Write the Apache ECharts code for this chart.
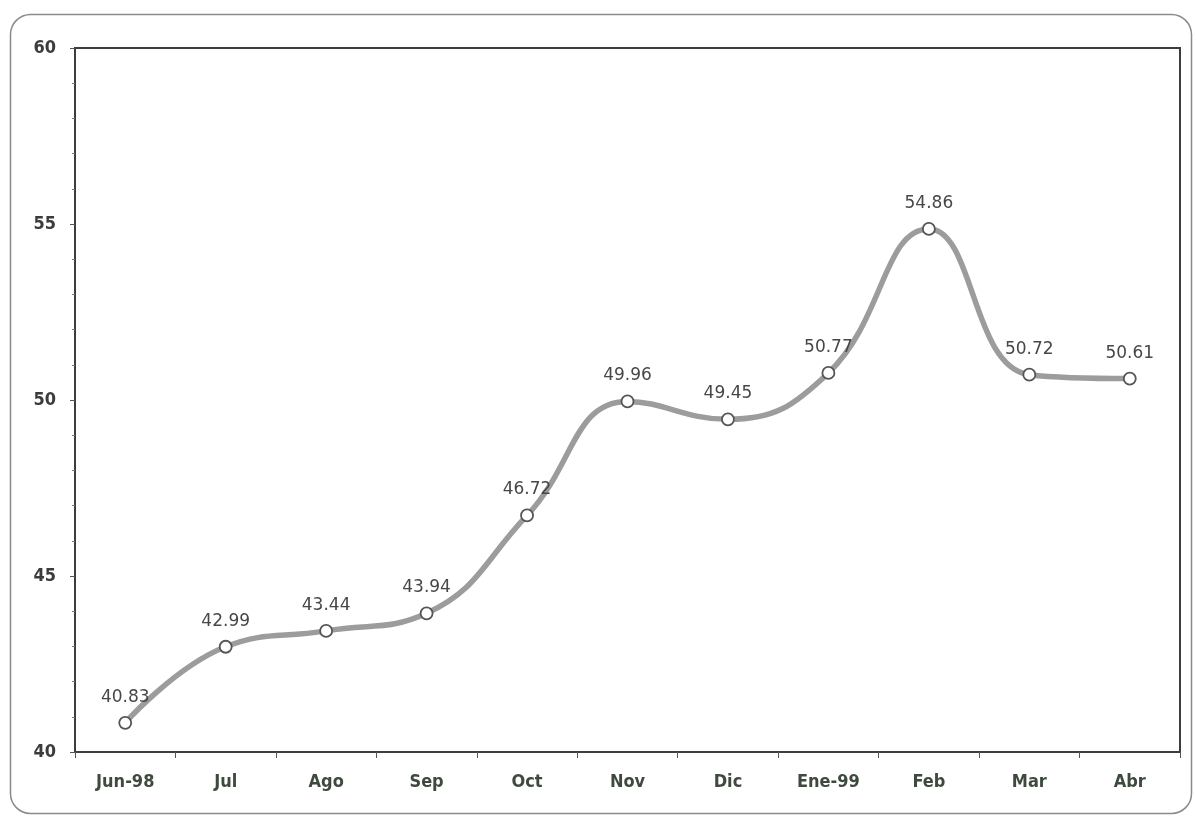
<!DOCTYPE html>
<html>
<head>
<meta charset="utf-8">
<script src="https://cdn.jsdelivr.net/npm/echarts@6/dist/echarts.min.js"></script>
<style>
  html, body { margin: 0; padding: 0; background: #ffffff; }
  #chart { width: 1196px; height: 822px; }
</style>
</head>
<body>
<div id="chart"></div>
<script>
// Monthly values, Jun-98 to Abr-99
const months = ['Jun-98', 'Jul', 'Ago', 'Sep', 'Oct', 'Nov', 'Dic', 'Ene-99', 'Feb', 'Mar', 'Abr'];
const values = [40.83, 42.99, 43.44, 43.94, 46.72, 49.96, 49.45, 50.77, 54.86, 50.72, 50.61];
const yTicks = [40, 45, 50, 55, 60];

const chart = echarts.init(document.getElementById('chart'));
const fontFamily = 'DejaVu Sans, Verdana, sans-serif';
const axisFont = '"DejaVu Sans Condensed", "DejaVu Sans", sans-serif';

chart.setOption({
  backgroundColor: '#ffffff',
  animation: false,
  graphic: [{
    type: 'rect',
    left: 8, top: 12,
    shape: { width: 1181, height: 799, r: 20 },
    style: { fill: 'none', stroke: '#8a8a8a', lineWidth: 1.5 },
    silent: true
  }],
  grid: {
    left: 75, right: 16, top: 48, bottom: 70,
    show: true,
    borderColor: '#3a3f3a',
    borderWidth: 2,
    backgroundColor: 'transparent'
  },
  xAxis: {
    type: 'category',
    data: months,
    boundaryGap: true,
    axisLine: { lineStyle: { color: '#3a3f3a', width: 2 } },
    axisTick: { show: true, length: 6, lineStyle: { color: '#555' } },
    axisLabel: {
      color: '#3d4a3d', fontFamily: axisFont, fontWeight: 'bold',
      fontSize: 18, margin: 21
    },
    splitLine: { show: false }
  },
  yAxis: {
    type: 'value',
    min: yTicks[0],
    max: yTicks[yTicks.length - 1],
    interval: 5,
    axisLine: { show: true, lineStyle: { color: '#3a3f3a', width: 2 } },
    axisTick: { show: true, length: 5, lineStyle: { color: '#555' } },
    minorTick: { show: true, splitNumber: 5, length: 3, lineStyle: { color: '#777' } },
    axisLabel: {
      color: '#3c3c3c', fontFamily: axisFont, fontWeight: 'bold',
      fontSize: 18, margin: 19,
      formatter: v => String(v)
    },
    splitLine: { show: false }
  },
  series: [{
    type: 'line',
    data: values,
    smooth: 0.45,
    symbol: 'circle',
    symbolSize: 12,
    lineStyle: { color: '#9c9c9c', width: 5.5 },
    itemStyle: { color: '#ffffff', borderColor: '#555555', borderWidth: 1.8 },
    label: {
      show: true,
      position: 'top',
      distance: 10,
      color: '#474747',
      fontFamily,
      fontSize: 17,
      formatter: p => p.value.toFixed(2)
    },
    z: 3
  }]
});
</script>
</body>
</html>
